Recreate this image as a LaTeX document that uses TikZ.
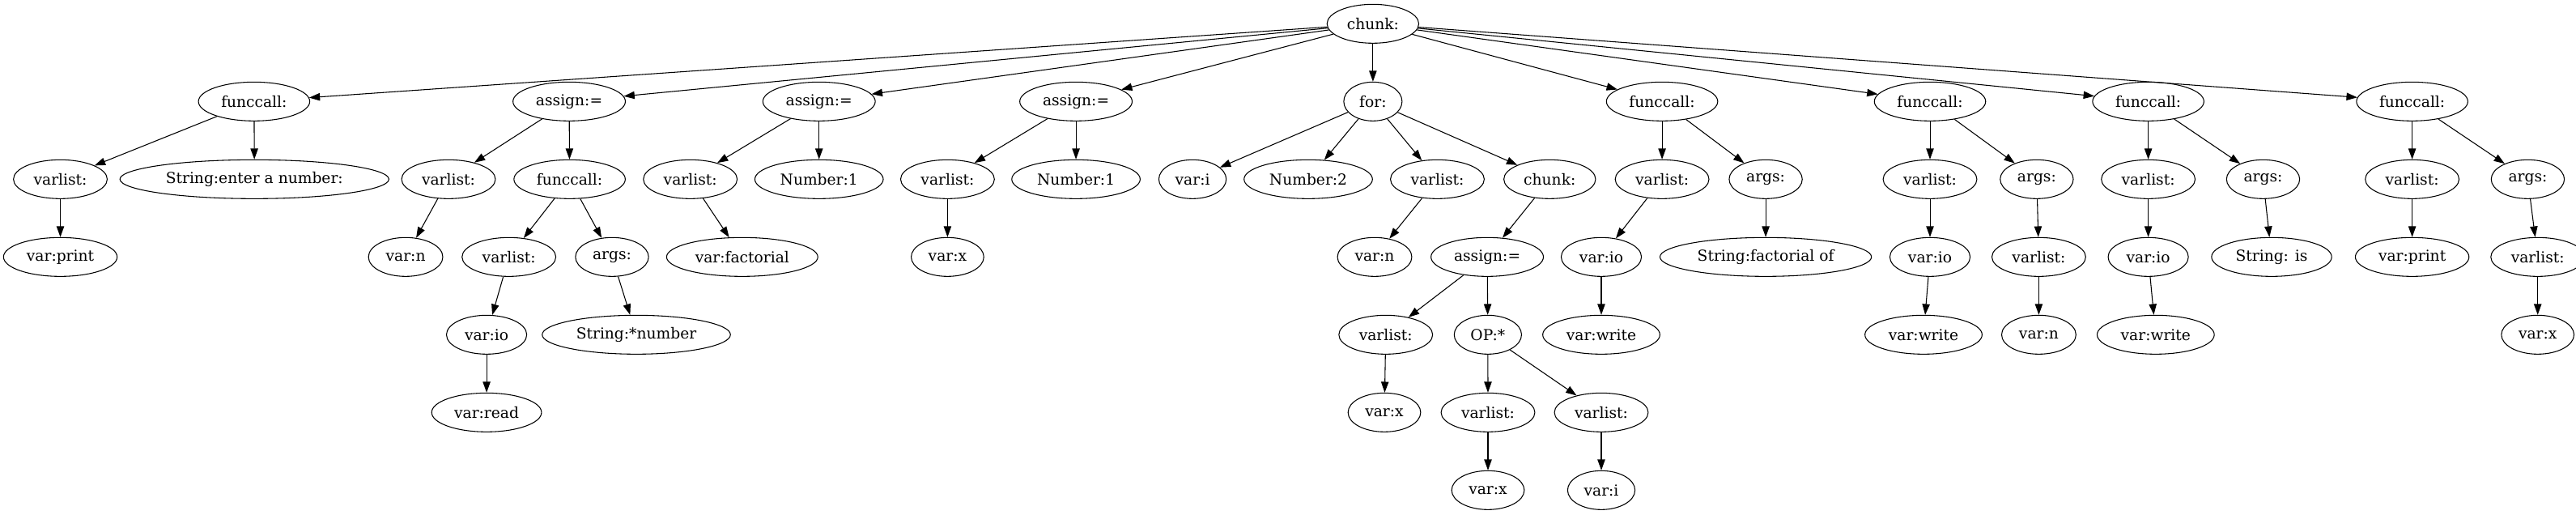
\documentclass[tikz,border=0pt]{standalone}
\usepackage{fontspec}
\setmainfont{DejaVu Serif}
\usetikzlibrary{arrows.meta,shapes.geometric}

\tikzset{
  tnode/.style={draw,ellipse,line width=0.8pt,inner xsep=6pt,inner ysep=0pt,
    minimum height=36pt,minimum width=54pt,font=\fontsize{14}{16}\selectfont},
  link/.style={line width=0.8pt,-{Triangle[length=10pt,width=7pt]}}
}

\begin{document}
\begin{tikzpicture}[x=1pt,y=-1pt]
  \useasboundingbox (0,0) rectangle (2386.5,476.25);

  % rank 0
  \node[tnode] (chunk) at (1271.9,22) {chunk:};

  % rank 1
  \node[tnode] (fcA) at (235.4,94) {funccall:};
  \node[tnode] (asA) at (527.3,94) {assign:=};
  \node[tnode] (asB) at (758.8,94) {assign:=};
  \node[tnode] (asC) at (996.8,94) {assign:=};
  \node[tnode] (forA) at (1271.9,94) {for:};
  \node[tnode] (fcB) at (1539.8,94) {funccall:};
  \node[tnode] (fcC) at (1788,94) {funccall:};
  \node[tnode] (fcD) at (1990.2,94) {funccall:};
  \node[tnode] (fcE) at (2234.7,94) {funccall:};

  % rank 2
  \node[tnode] (vlA) at (55.9,166) {varlist:};
  \node[tnode] (strA) at (235.7,166) {String:enter a number:};
  \node[tnode] (vlB) at (415.5,166) {varlist:};
  \node[tnode] (fcF) at (527.7,166) {funccall:};
  \node[tnode] (vlC) at (639.5,166) {varlist:};
  \node[tnode] (numA) at (758.8,166) {Number:1};
  \node[tnode] (vlD) at (877.8,166) {varlist:};
  \node[tnode] (numB) at (996.8,166) {Number:1};
  \node[tnode] (viA) at (1104.8,166) {var:i};
  \node[tnode] (numC) at (1212,166) {Number:2};
  \node[tnode] (vlE) at (1331.6,166) {varlist:};
  \node[tnode] (chB) at (1435.7,166) {chunk:};
  \node[tnode] (vlF) at (1539.8,166) {varlist:};
  \node[tnode] (argA) at (1635.8,166) {args:};
  \node[tnode] (vlG) at (1788,166) {varlist:};
  \node[tnode] (argB) at (1886.9,166) {args:};
  \node[tnode] (vlH) at (1990.2,166) {varlist:};
  \node[tnode] (argC) at (2096.6,166) {args:};
  \node[tnode] (vlI) at (2234.7,166) {varlist:};
  \node[tnode] (argD) at (2341.8,166) {args:};

  % rank 3
  \node[tnode] (vpA) at (55.9,238) {var:print};
  \node[tnode] (vnA) at (375.8,238) {var:n};
  \node[tnode] (vlJ) at (471.5,238) {varlist:};
  \node[tnode] (argE) at (567,238) {args:};
  \node[tnode] (vfA) at (687.6,238) {var:factorial};
  \node[tnode] (vxA) at (877.8,238) {var:x};
  \node[tnode] (vnB) at (1273.5,238) {var:n};
  \node[tnode] (asD) at (1377.8,238) {assign:=};
  \node[tnode] (vioA) at (1483.5,238) {var:io};
  \node[tnode] (strB) at (1635.8,238) {String:factorial of};
  \node[tnode] (vioB) at (1788,238) {var:io};
  \node[tnode] (vlK) at (1888.8,238) {varlist:};
  \node[tnode] (vioC) at (1990.2,238) {var:io};
  \node[tnode] (strC) at (2104.5,238) {String: is};
  \node[tnode] (vpB) at (2234.7,238) {var:print};
  \node[tnode] (vlL) at (2351,238) {varlist:};

  % rank 4
  \node[tnode] (vioD) at (450.8,310) {var:io};
  \node[tnode] (strD) at (589.5,310) {String:*number};
  \node[tnode] (vlM) at (1283.8,310) {varlist:};
  \node[tnode] (opA) at (1378.4,310) {OP:*};
  \node[tnode] (vwA) at (1483.5,310) {var:write};
  \node[tnode] (vwB) at (1782,310) {var:write};
  \node[tnode] (vnC) at (1888.8,310) {var:n};
  \node[tnode] (vwC) at (1997.1,310) {var:write};
  \node[tnode] (vxB) at (2351,310) {var:x};

  % rank 5
  \node[tnode] (vrA) at (450.8,382) {var:read};
  \node[tnode] (vxC) at (1282.5,382) {var:x};
  \node[tnode] (vlN) at (1378.5,382) {varlist:};
  \node[tnode] (vlO) at (1483.5,382) {varlist:};

  % rank 6
  \node[tnode] (vxD) at (1378.5,454) {var:x};
  \node[tnode] (viB) at (1483.5,454) {var:i};

  % edges
  \foreach \a/\b in {chunk/fcA,chunk/asA,chunk/asB,chunk/asC,chunk/forA,
      chunk/fcB,chunk/fcC,chunk/fcD,chunk/fcE,
      fcA/vlA,fcA/strA,vlA/vpA,
      asA/vlB,asA/fcF,vlB/vnA,fcF/vlJ,fcF/argE,vlJ/vioD,vioD/vrA,argE/strD,
      asB/vlC,asB/numA,vlC/vfA,
      asC/vlD,asC/numB,vlD/vxA,
      forA/viA,forA/numC,forA/vlE,forA/chB,vlE/vnB,chB/asD,
      asD/vlM,asD/opA,vlM/vxC,opA/vlN,opA/vlO,vlN/vxD,vlO/viB,
      fcB/vlF,fcB/argA,vlF/vioA,vioA/vwA,argA/strB,
      fcC/vlG,fcC/argB,vlG/vioB,vioB/vwB,argB/vlK,vlK/vnC,
      fcD/vlH,fcD/argC,vlH/vioC,vioC/vwC,argC/strC,
      fcE/vlI,fcE/argD,vlI/vpB,argD/vlL,vlL/vxB}{
    \draw[link] (\a) -- (\b);
  }
\end{tikzpicture}
\end{document}
